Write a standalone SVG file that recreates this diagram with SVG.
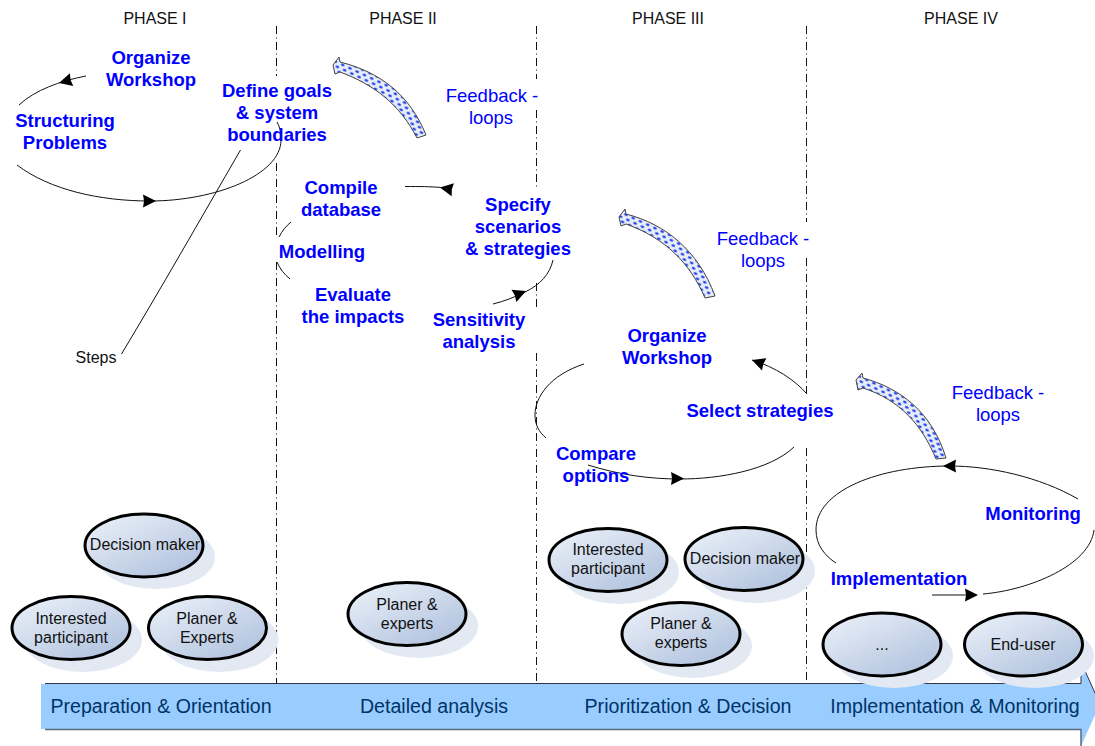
<svg xmlns="http://www.w3.org/2000/svg" width="1095" height="746" viewBox="0 0 1095 746">
<style>
.ph{font:16px "Liberation Sans",Arial,sans-serif;fill:#111;text-anchor:middle}
.st{font:bold 18.500px "Liberation Sans",Arial,sans-serif;fill:#0000ff;text-anchor:middle}
.fb{font:18.500px "Liberation Sans",Arial,sans-serif;fill:#0000ff;text-anchor:middle}
.nt{font:16px "Liberation Sans",Arial,sans-serif;fill:#111;text-anchor:middle}
.bar{font:19.600px "Liberation Sans",Arial,sans-serif;fill:#003366;text-anchor:middle}
.div{stroke:#111;stroke-width:1;stroke-dasharray:8 3.500 1 3.500;fill:none}
.c{fill:none;stroke:#111;stroke-width:1}
.h{fill:#000}
.sh{fill:#e3e9f3}
.el{fill:url(#eg);stroke:#000;stroke-width:3}
.fa{fill:url(#dots);stroke:#444;stroke-width:1}
</style>
<defs>
<linearGradient id="eg" x1="0.1" y1="0.05" x2="0.9" y2="0.95">
<stop offset="0" stop-color="#e9eff8"/><stop offset="1" stop-color="#afc1dd"/>
</linearGradient>
<pattern id="dots" width="8" height="8" patternUnits="userSpaceOnUse" patternTransform="rotate(25)">
<rect width="8" height="8" fill="#e9edf8"/>
<ellipse cx="2" cy="2" rx="1.900" ry="1.300" fill="#1f45ee"/>
<ellipse cx="6" cy="6" rx="1.900" ry="1.300" fill="#1f45ee"/>
</pattern>
<path id="ah" d="M0,0 L-13,-6.500 L-12,0 L-13,6.500 Z"/>
</defs>

<g id="dividers">
<path class="div" d="M276.500,26V76M276.500,163V237M276.500,262V684"/>
<path class="div" d="M536.500,26V79M536.500,110V188M536.500,283V307M536.500,353V684"/>
<path class="div" d="M806.500,26V222M806.500,258V393M806.500,448V684"/>
</g>

<g id="phase-labels">
<text class="ph" x="155" y="24">PHASE I</text>
<text class="ph" x="403" y="24">PHASE II</text>
<text class="ph" x="668" y="24">PHASE III</text>
<text class="ph" x="961" y="24">PHASE IV</text>
</g>

<g id="flow-arrow">
<path d="M41,684H1081V662L1100,704L1081,746V729H41Z" fill="#99ccff"/>
<path d="M45,683.500H1081V662L1100,704" fill="none" stroke="#334" stroke-width="1"/>
<path d="M45,729.500H1081V746" fill="none" stroke="#5a6b80" stroke-width="1.500"/>
<text class="bar" x="161" y="713">Preparation &amp; Orientation</text>
<text class="bar" x="434" y="713">Detailed analysis</text>
<text class="bar" x="688" y="713">Prioritization &amp; Decision</text>
<text class="bar" x="955" y="713">Implementation &amp; Monitoring</text>
</g>

<g id="connectors">
<path class="c" d="M86,76C60,81 35,90 19,105"/>
<use href="#ah" class="h" transform="translate(59,83) rotate(165)"/>
<path class="c" d="M17,165C50,190 100,201 150,201C215,201 281,175 281,140C281,133 280,127 277,122"/>
<use href="#ah" class="h" transform="translate(156,201)"/>
<path class="c" d="M240.500,150C200,220 160,290 121.500,354"/>
<path class="c" d="M405,186.500C420,186.500 430,186.500 441,187.500"/>
<use href="#ah" class="h" transform="translate(440,187.500) rotate(190)"/>
<path class="c" d="M291,222C286,226 282,231 279,237"/>
<path class="c" d="M277,262C280,269 284,274 290,279"/>
<path class="c" d="M493,304C505,301 515,297 525,292C540,285 550,274 553,260"/>
<use href="#ah" class="h" transform="translate(526,291) rotate(-22)"/>
<path class="c" d="M584,364C550,375 535,397 535,415C535,425 539,432 546,438"/>
<path class="c" d="M588,465C620,475 650,479 680,479C720,479 770,470 794,447"/>
<use href="#ah" class="h" transform="translate(684,478.500)"/>
<path class="c" d="M807,394C795,380 775,367 752,360"/>
<use href="#ah" class="h" transform="translate(752,360) rotate(200)"/>
<path class="c" d="M1078,499C1040,477 990,466 950,466C880,466 816,490 816,530C816,545 825,556 836,563"/>
<use href="#ah" class="h" transform="translate(943,466) rotate(180)"/>
<path class="c" d="M983,594C1030,590 1090,565 1094,530"/>
<path class="c" d="M932,595H970"/>
<use href="#ah" class="h" transform="translate(978,595)"/>
</g>

<g id="feedback-1">
<path class="fa" d="M333,65L339,57L340,62C380,72 410,95 426,135L417,138C400,105 375,85 340,72L335,74Z"/>
<text class="fb" x="492" y="102">Feedback -</text><text class="fb" x="491" y="124">loops</text>
</g>
<g id="feedback-2">
<path class="fa" d="M619,217L625,209L626,214C665,224 698,250 715,296L705,298C690,263 665,238 626,224L621,226Z"/>
<text class="fb" x="763" y="245">Feedback -</text><text class="fb" x="763" y="267">loops</text>
</g>
<g id="feedback-3">
<path class="fa" d="M856,380L862,373L863,378C900,388 932,412 946,458L936,459C922,425 900,400 863,388L858,390Z"/>
<text class="fb" x="998" y="399">Feedback -</text><text class="fb" x="998" y="421">loops</text>
</g>

<g id="steps-text">
<text class="st" x="151" y="64">Organize</text><text class="st" x="151" y="86">Workshop</text>
<text class="st" x="65" y="127">Structuring</text><text class="st" x="65" y="149">Problems</text>
<text class="st" x="277" y="97">Define goals</text><text class="st" x="277" y="119">&amp; system</text><text class="st" x="277" y="141">boundaries</text>
<text class="st" x="341" y="194">Compile</text><text class="st" x="341" y="216">database</text>
<text class="st" x="322" y="258">Modelling</text>
<text class="st" x="353" y="301">Evaluate</text><text class="st" x="353" y="323">the impacts</text>
<text class="st" x="518" y="211">Specify</text><text class="st" x="518" y="233">scenarios</text><text class="st" x="518" y="255">&amp; strategies</text>
<text class="st" x="479" y="326">Sensitivity</text><text class="st" x="479" y="348">analysis</text>
<text class="st" x="667" y="342">Organize</text><text class="st" x="667" y="364">Workshop</text>
<text class="st" x="760" y="417">Select strategies</text>
<text class="st" x="596" y="460">Compare</text><text class="st" x="596" y="482">options</text>
<text class="st" x="1033" y="520">Monitoring</text>
<text class="st" x="899" y="585">Implementation</text>
<text class="nt" x="96" y="363">Steps</text>
</g>

<g id="n-decision-1"><ellipse class="sh" cx="156" cy="557" rx="59" ry="32"/><ellipse class="el" cx="144" cy="545.500" rx="59" ry="31.500"/><text class="nt" x="145" y="550">Decision maker</text></g>
<g id="n-interested-1"><ellipse class="sh" cx="83" cy="640" rx="59" ry="32"/><ellipse class="el" cx="71" cy="628" rx="59" ry="31.500"/><text class="nt" x="71" y="624">Interested</text><text class="nt" x="71" y="643">participant</text></g>
<g id="n-planer-1"><ellipse class="sh" cx="219.500" cy="640" rx="59" ry="32"/><ellipse class="el" cx="207.500" cy="628" rx="59" ry="31.500"/><text class="nt" x="207" y="624">Planer &amp;</text><text class="nt" x="207" y="643">Experts</text></g>
<g id="n-planer-2"><ellipse class="sh" cx="419" cy="626" rx="59" ry="32"/><ellipse class="el" cx="407" cy="614" rx="59" ry="31.500"/><text class="nt" x="407" y="610">Planer &amp;</text><text class="nt" x="407" y="629">experts</text></g>
<g id="n-interested-3"><ellipse class="sh" cx="620" cy="572" rx="59" ry="32"/><ellipse class="el" cx="608" cy="560" rx="59" ry="31.500"/><text class="nt" x="608" y="555">Interested</text><text class="nt" x="608" y="574">participant</text></g>
<g id="n-decision-3"><ellipse class="sh" cx="756" cy="571" rx="59" ry="32"/><ellipse class="el" cx="744" cy="559" rx="59" ry="31.500"/><text class="nt" x="745" y="564">Decision maker</text></g>
<g id="n-planer-3"><ellipse class="sh" cx="693" cy="646" rx="59" ry="32"/><ellipse class="el" cx="681" cy="634" rx="59" ry="31.500"/><text class="nt" x="681" y="629">Planer &amp;</text><text class="nt" x="681" y="648">experts</text></g>
<g id="n-dots"><ellipse class="sh" cx="894" cy="656" rx="59" ry="32"/><ellipse class="el" cx="882" cy="644.500" rx="59" ry="31.500"/><text class="nt" x="882" y="650">...</text></g>
<g id="n-enduser"><ellipse class="sh" cx="1035" cy="656" rx="59" ry="32"/><ellipse class="el" cx="1023.500" cy="644.500" rx="59" ry="31.500"/><text class="nt" x="1023" y="650">End-user</text></g>
</svg>
